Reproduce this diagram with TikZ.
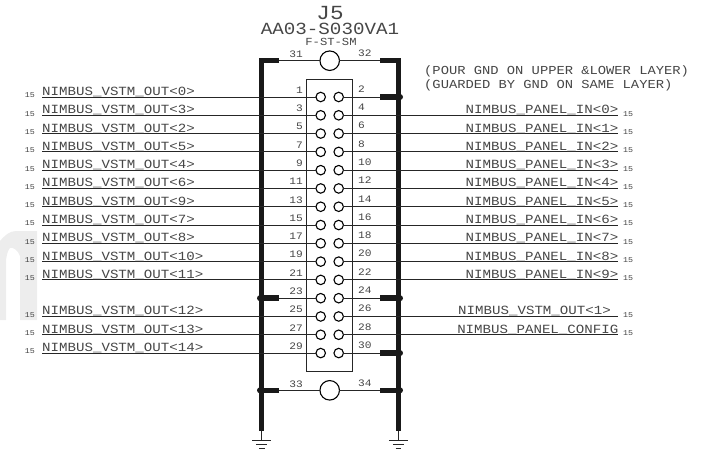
\documentclass[tikz,border=0pt]{standalone}
\usepackage{fontspec}
\setmonofont[FakeStretch=1.13]{Liberation Mono}
\usepackage{tikz}
\definecolor{InkColor}{RGB}{70,70,70}
\newcommand{\sz}[1]{\ttfamily\fontsize{#1}{#1}\selectfont}
\tikzset{
  sig/.style={inner sep=0pt, text=InkColor, font=\sz{12.5}},
  ref/.style={inner sep=0pt, text=InkColor, font=\sz{7.4}},
  pinnum/.style={inner sep=0pt, text=InkColor, font=\sz{9.9}},
  pin/.style={circle, draw, line width=1.1pt, fill=white, inner sep=0pt, outer sep=0pt, minimum size=9.5pt},
  shell/.style={circle, draw, line width=1.1pt, fill=white, inner sep=0pt, outer sep=0pt, minimum size=19.5pt},
  wire/.style={line width=1pt, black!85},
  rail/.style={line width=5pt, black!90},
  stub/.style={line width=5.5pt, black!90},
  dot/.style={circle, fill=black!90, inner sep=0pt, minimum size=6pt}
}

\begin{document}
\begin{tikzpicture}[x=1pt, y=-1pt]
  \useasboundingbox (0,0) rectangle (719,452);

  \fill[black!7] (0,320) -- (0,241) .. controls (5,235) and (10,231) .. (16,231) -- (37,231) -- (37,320) -- (20,320) -- (20,256) .. controls (18,250) and (13,247) .. (10,248) .. controls (8,250) and (7,254) .. (6,260) -- (6,320) -- cycle;

  \node[font=\sz{20}, inner sep=0pt, text=InkColor] (refdes) at (330,13.5) {J5};
  \node[font=\sz{17}, inner sep=0pt, text=InkColor] (partno) at (330,29) {AA03-S030VA1};
  \node[font=\sz{10.8}, inner sep=0pt, text=InkColor] (footprint) at (331,41.5) {F-ST-SM};
  \node[anchor=west, font=\sz{12.2}, inner sep=0pt, text=InkColor] (note1) at (424,71) {(POUR GND ON UPPER \&LOWER LAYER)};
  \node[anchor=west, font=\sz{12.2}, inner sep=0pt, text=InkColor] (note2) at (424,85) {(GUARDED BY GND ON SAME LAYER)};

  \draw[thick, black!85] (306.7,79) rectangle (352.7,371.7);

  \coordinate (railLtop) at (261.8,58);
  \coordinate (railLbot) at (261.8,431);
  \coordinate (railRtop) at (398.3,58);
  \coordinate (railRbot) at (398.3,431);
  \draw[rail] (railLtop) -- (railLbot);
  \draw[rail] (railRtop) -- (railRbot);

  \node[shell] (top) at (329.7,60.7) {};
  \node[shell] (bot) at (329.7,390.3) {};
  \foreach \s/\yy/\a/\b in {top/60.7/31/32, bot/390.3/33/34} {
    \coordinate (\s L) at (279,\yy);
    \coordinate (\s R) at (380,\yy);
    \draw[wire] (\s L) -- (\s);
    \draw[wire] (\s) -- (\s R);
    \draw[stub] (261,\yy) -- (\s L);
    \draw[stub] (399,\yy) -- (\s R);
    \node[pinnum, anchor=east] (n\a) at (303,\yy-6.5) {\a};
    \node[pinnum, anchor=west] (n\b) at (358,\yy-7.5) {\b};
  }
  \node[dot] (jL33) at (260,390.3) {};
  \node[dot] (jR34) at (400,390.3) {};

  \foreach \r/\p/\t in {0/1/NIMBUS\_VSTM\_OUT<0>, 1/3/NIMBUS\_VSTM\_OUT<3>, 2/5/NIMBUS\_VSTM\_OUT<2>, 3/7/NIMBUS\_VSTM\_OUT<5>, 4/9/NIMBUS\_VSTM\_OUT<4>, 5/11/NIMBUS\_VSTM\_OUT<6>, 6/13/NIMBUS\_VSTM\_OUT<9>, 7/15/NIMBUS\_VSTM\_OUT<7>, 8/17/NIMBUS\_VSTM\_OUT<8>, 9/19/NIMBUS\_VSTM\_OUT<10>, 10/21/NIMBUS\_VSTM\_OUT<11>, 12/25/NIMBUS\_VSTM\_OUT<12>, 13/27/NIMBUS\_VSTM\_OUT<13>, 14/29/NIMBUS\_VSTM\_OUT<14>} {
    \pgfmathsetmacro{\yy}{97+18.29*\r}
    \node[pin] (p\p) at (320.7,\yy) {};
    \coordinate (w\p) at (42,\yy);
    \draw[wire] (w\p) -- (p\p);
    \node[sig, anchor=base west] (s\p) at (42,\yy-1.5) {\t};
    \node[ref, anchor=east] (r\p) at (35,\yy-1.5) {15};
    \node[pinnum, anchor=east] (n\p) at (303,\yy-7) {\p};
  }
  \foreach \r/\p/\t/\g in {1/4/NIMBUS\_PANEL\_IN<0>/0, 2/6/NIMBUS\_PANEL\_IN<1>/0, 3/8/NIMBUS\_PANEL\_IN<2>/0, 4/10/NIMBUS\_PANEL\_IN<3>/0, 5/12/NIMBUS\_PANEL\_IN<4>/0, 6/14/NIMBUS\_PANEL\_IN<5>/0, 7/16/NIMBUS\_PANEL\_IN<6>/0, 8/18/NIMBUS\_PANEL\_IN<7>/0, 9/20/NIMBUS\_PANEL\_IN<8>/0, 10/22/NIMBUS\_PANEL\_IN<9>/0, 12/26/NIMBUS\_VSTM\_OUT<1>/7.5, 13/28/NIMBUS\_PANEL\_CONFIG/0} {
    \pgfmathsetmacro{\yy}{97+18.29*\r}
    \node[pin] (p\p) at (338.7,\yy) {};
    \coordinate (w\p) at (618,\yy);
    \draw[wire] (p\p) -- (w\p);
    \node[sig, anchor=base east] (s\p) at (618.5-\g,\yy-1.5) {\t};
    \node[ref, anchor=west] (r\p) at (623,\yy-1.5) {15};
    \node[pinnum, anchor=west] (n\p) at (358,\yy-8) {\p};
  }

  \foreach \r/\p in {11/23} {
    \pgfmathsetmacro{\yy}{97+18.29*\r}
    \node[pin] (p\p) at (320.7,\yy) {};
    \coordinate (w\p) at (279,\yy);
    \draw[wire] (w\p) -- (p\p);
    \draw[stub] (260,\yy) -- (w\p);
    \node[dot] (j\p) at (260,\yy) {};
    \node[pinnum, anchor=east] (n\p) at (303,\yy-7) {\p};
  }
  \foreach \r/\p in {0/2, 11/24, 14/30} {
    \pgfmathsetmacro{\yy}{97+18.29*\r}
    \node[pin] (p\p) at (338.7,\yy) {};
    \coordinate (w\p) at (380,\yy);
    \draw[wire] (p\p) -- (w\p);
    \draw[stub] (400,\yy) -- (w\p);
    \node[dot] (j\p) at (400,\yy) {};
    \node[pinnum, anchor=west] (n\p) at (358,\yy-8) {\p};
  }

  \foreach \g/\xx in {railLbot/261.8, railRbot/398.3} {
    \coordinate (\g g) at (\xx,440);
    \draw[wire] (\g) -- (\g g);
    \draw[wire] (\xx-9.5,440) -- (\xx+9.5,440);
    \draw[wire] (\xx-5.5,444.3) -- (\xx+5.5,444.3);
    \draw[wire] (\xx-2.7,448.7) -- (\xx+2.7,448.7);
  }
\end{tikzpicture}
\end{document}
